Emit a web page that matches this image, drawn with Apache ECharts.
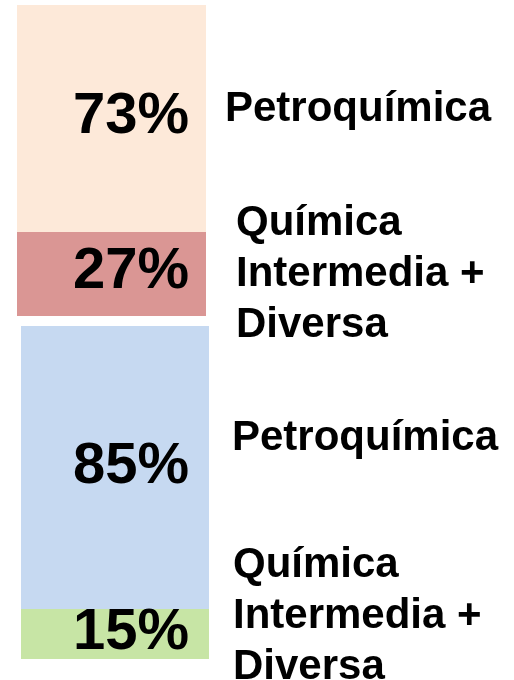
<!DOCTYPE html>
<html><head><meta charset="utf-8">
<script src="https://cdn.jsdelivr.net/npm/echarts@6/dist/echarts.min.js"></script>
<style>html,body{margin:0;padding:0;background:#fff}#c{width:514px;height:680px}</style>
</head><body><div id="c"></div>
<script>
const groups = ['Grupo 1', 'Grupo 2'];
const petroValues = [73, 85];
const quimicaValues = [27, 15];
const categoryNames = ['Petroquímica', 'Química\nIntermedia +\nDiversa'];
const petroColors = ['#FDE9D9', '#C6D9F1'];
const quimicaColors = ['#DA9694', '#C7E5A5'];

const FONT = '"Liberation Sans", Arial, sans-serif';
const grids = [
  {left: 17, top: 5, width: 189, height: 311},
  {left: 21, top: 326, width: 188, height: 333}
];
const labelOffsets = [-2, -1];
const labelDistances = [17, 20];

const chart = echarts.init(document.getElementById('c'));
const xAxis = [], yAxis = [], series = [];
groups.forEach((g, i) => {
  xAxis.push({type: 'category', gridIndex: i, data: [g], show: false});
  yAxis.push({type: 'value', gridIndex: i, min: 0, max: 100, show: false});
  const lbl = {
    show: true, position: 'insideRight', distance: labelDistances[i], offset: [0, labelOffsets[i]],
    formatter: '{c}%', fontFamily: FONT, fontWeight: 'bold', fontSize: 58, color: '#000'
  };
  series.push({
    type: 'bar', xAxisIndex: i, yAxisIndex: i, stack: 's' + i, barWidth: '100%',
    data: [quimicaValues[i]], itemStyle: {color: quimicaColors[i]}, label: lbl, silent: true
  });
  series.push({
    type: 'bar', xAxisIndex: i, yAxisIndex: i, stack: 's' + i, barWidth: '100%',
    data: [petroValues[i]], itemStyle: {color: petroColors[i]}, label: lbl, silent: true
  });
});

const textPos = [
  [{x: 225, y: 109}, {x: 236, y: 274}],
  [{x: 232, y: 438}, {x: 233, y: 616}]
];
const graphic = [];
textPos.forEach(pair => {
  pair.forEach((p, k) => {
    graphic.push({
      type: 'text', x: p.x, y: p.y, silent: true,
      style: {
        text: categoryNames[k], x: 0, y: 0,
        font: 'bold 42px ' + FONT, fill: '#000', lineHeight: 51,
        align: 'left', verticalAlign: 'middle'
      }
    });
  });
});

chart.setOption({
  animation: false,
  grid: grids,
  xAxis, yAxis, series,
  graphic
});
</script></body></html>
